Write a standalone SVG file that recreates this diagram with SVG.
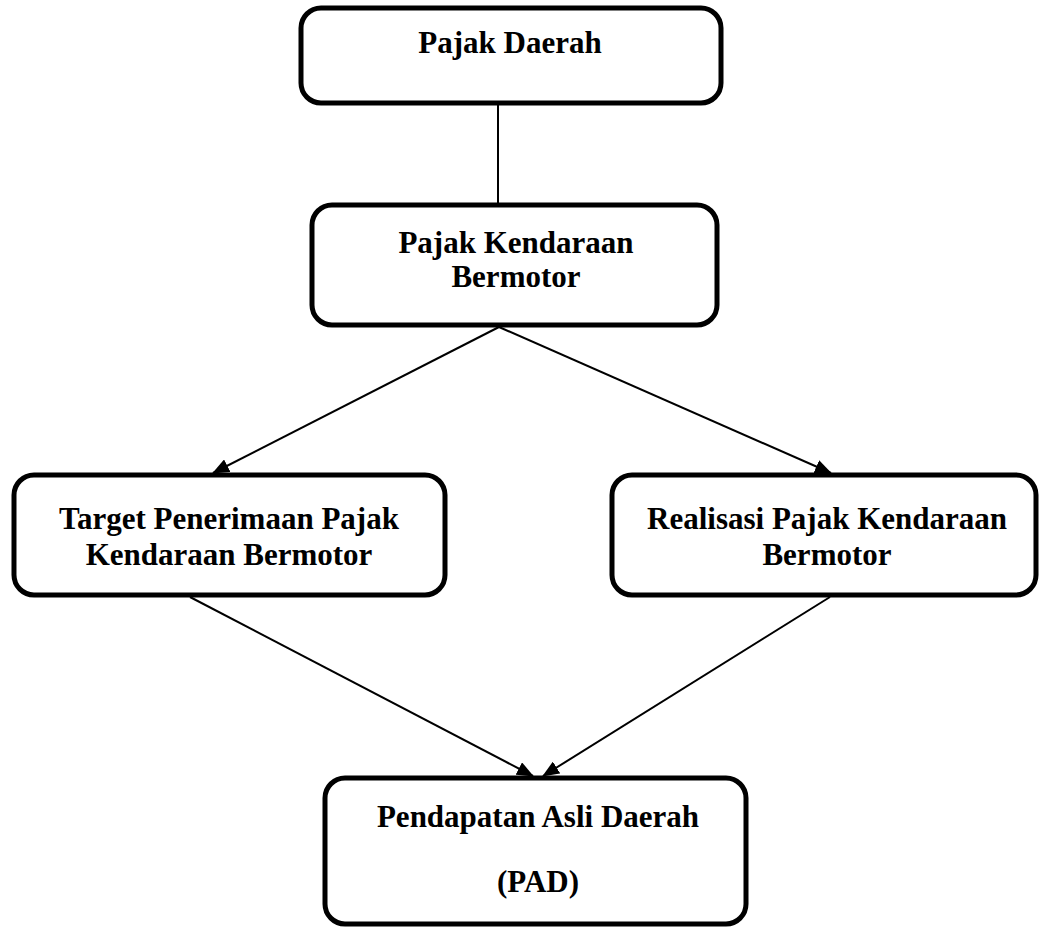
<svg xmlns="http://www.w3.org/2000/svg" width="1039" height="930" viewBox="0 0 1039 930">
<style>
.box{fill:#fff;stroke:#000;stroke-width:5}
.t{font-family:"Liberation Serif","Times New Roman",serif;font-weight:bold;font-size:31px;text-anchor:middle;fill:#000}
.c{stroke:#000;stroke-width:2;fill:none}
</style>
<defs>
<marker id="ah" markerUnits="userSpaceOnUse" markerWidth="18" markerHeight="14" refX="16" refY="7" orient="auto">
<path d="M0,0 L17,7 L0,14 Z" fill="#000"/>
</marker>
</defs>
<g id="connectors">
<line class="c" x1="498" y1="105" x2="498" y2="203"/>
<line class="c" x1="499" y1="327" x2="213" y2="473" marker-end="url(#ah)"/>
<line class="c" x1="499" y1="327" x2="831" y2="473" marker-end="url(#ah)"/>
<line class="c" x1="190" y1="597" x2="533" y2="776" marker-end="url(#ah)"/>
<line class="c" x1="830" y1="597" x2="543" y2="776" marker-end="url(#ah)"/>
</g>
<g id="pajak-daerah">
<rect class="box" x="301" y="8" width="420" height="95" rx="20"/>
<text class="t" x="510" y="53">Pajak Daerah</text>
</g>
<g id="pkb">
<rect class="box" x="312" y="205" width="405" height="120" rx="20"/>
<text class="t" x="516" y="253">Pajak Kendaraan</text>
<text class="t" x="516" y="287">Bermotor</text>
</g>
<g id="target">
<rect class="box" x="14" y="475" width="431" height="120" rx="20"/>
<text class="t" x="229" y="529">Target Penerimaan Pajak</text>
<text class="t" x="229" y="565">Kendaraan Bermotor</text>
</g>
<g id="realisasi">
<rect class="box" x="612" y="475" width="424" height="120" rx="20"/>
<text class="t" x="827" y="529">Realisasi Pajak Kendaraan</text>
<text class="t" x="827" y="565">Bermotor</text>
</g>
<g id="pad">
<rect class="box" x="325" y="778" width="421" height="146" rx="20"/>
<text class="t" x="538" y="827">Pendapatan Asli Daerah</text>
<text class="t" x="538" y="892">(PAD)</text>
</g>
</svg>
